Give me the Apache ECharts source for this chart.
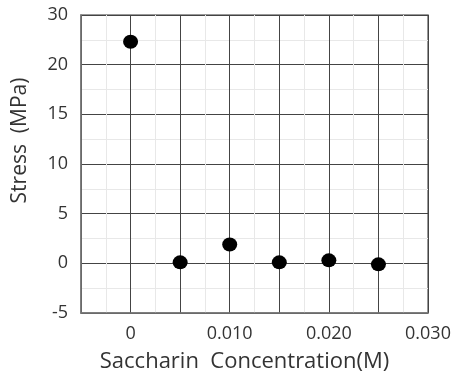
<!DOCTYPE html>
<html><head><meta charset="utf-8">
<script src="https://cdn.jsdelivr.net/npm/echarts@6/dist/echarts.min.js"></script>
<style>html,body{margin:0;padding:0;background:#fff}#c{width:457px;height:378px}</style>
</head><body><div id="c"></div>
<script>
const concentration = [0, 0.005, 0.010, 0.015, 0.020, 0.025];
const stress = [22.3, 0.1, 1.9, 0.1, 0.3, -0.1];
const xTickLabels = {"0": "0", "10": "0.010", "20": "0.020", "30": "0.030"};
const yTickLabels = {"-5": "-5", "0": "0", "5": "5", "10": "10", "15": "15", "20": "20", "25": "30"};

const font = '"Open Sans", "Noto Sans", sans-serif';
const chart = echarts.init(document.getElementById('c'));
chart.setOption({
  animation: false,
  grid: {left: 81, top: 15, right: 29, bottom: 64, show: true, borderColor: '#777', borderWidth: 1.5},
  xAxis: {
    type: 'value', min: -0.005, max: 0.030, interval: 0.005,
    axisLine: {show: true, onZero: false, lineStyle: {color: '#777', width: 1.5}},
    axisTick: {show: false},
    axisLabel: {color: '#333', fontSize: 18, fontFamily: font, margin: 12,
      formatter: v => { const k = Math.round(v * 1000); return xTickLabels[String(k)] || ''; }},
    splitLine: {show: true, lineStyle: {color: '#444', width: 1}},
    minorTick: {show: false, splitNumber: 2},
    minorSplitLine: {show: true, lineStyle: {color: '#e8e8e8', width: 1}},
    name: 'Saccharin  Concentration(M)', nameLocation: 'middle', nameGap: 38,
    nameTextStyle: {color: '#333', fontSize: 22, fontFamily: font, padding: [0, 20, 0, 0]}
  },
  yAxis: {
    type: 'value', min: -5, max: 25, interval: 5,
    axisLine: {show: true, onZero: false, lineStyle: {color: '#777', width: 1.5}},
    axisTick: {show: false},
    axisLabel: {color: '#333', fontSize: 18, fontFamily: font, margin: 13,
      formatter: v => yTickLabels[String(Math.round(v))] || ''},
    splitLine: {show: true, lineStyle: {color: '#444', width: 1}},
    minorTick: {show: false, splitNumber: 2},
    minorSplitLine: {show: true, lineStyle: {color: '#e8e8e8', width: 1}},
    name: 'Stress  (MPa)', nameLocation: 'middle', nameGap: 50,
    nameTextStyle: {color: '#333', fontSize: 21, fontFamily: font, padding: [0, 0, 0, 47]}
  },
  series: [{
    type: 'scatter',
    data: concentration.map((x, i) => [x, stress[i]]),
    symbol: 'circle', symbolSize: [15, 14],
    itemStyle: {color: '#000', opacity: 1}
  }]
});
</script></body></html>
